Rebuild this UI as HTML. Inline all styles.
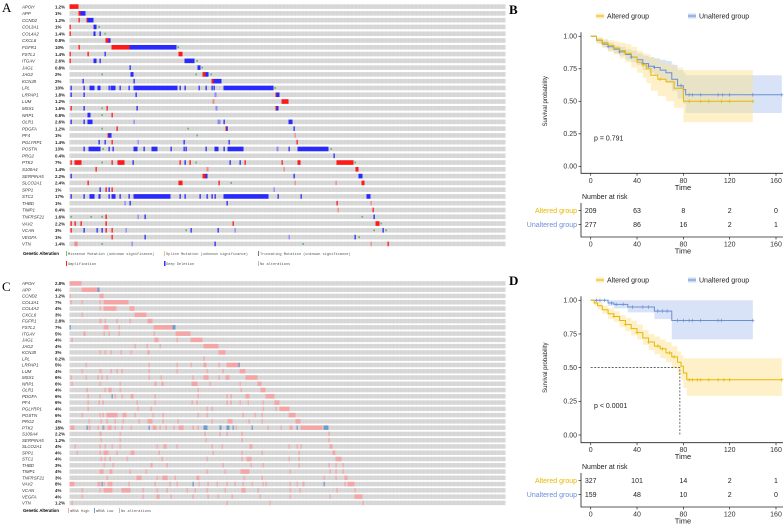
<!DOCTYPE html>
<html><head><meta charset="utf-8"><style>
html,body{margin:0;padding:0;background:#fff;}
svg{display:block;font-family:"Liberation Sans",sans-serif;}
</style></head><body>
<svg id="fig" width="784" height="525" viewBox="0 0 784 525" xmlns="http://www.w3.org/2000/svg">
<text x="2" y="12" font-family="Liberation Serif,serif" font-size="13">A</text>
<text x="2" y="291" font-family="Liberation Serif,serif" font-size="13">C</text>
<text x="509" y="14" font-family="Liberation Serif,serif" font-size="13" font-weight="bold">B</text>
<text x="509" y="285" font-family="Liberation Serif,serif" font-size="13" font-weight="bold">D</text>
<g id="oncoA"></g>
<g id="oncoC"></g>
<g id="kmB"></g>
<g id="kmD"></g>
<g font-size="3.6">
<text x="23" y="255" font-weight="bold" font-size="4.2">Genetic Alteration</text>
<rect x="66" y="251" width="0.8" height="5" fill="#4caf50"/>
<text x="68" y="255" font-family="Liberation Mono,monospace" fill="#555">Missense Mutation (unknown significance)</text>
<rect x="164" y="251" width="0.8" height="5" fill="#e0b870"/>
<text x="166" y="255" font-family="Liberation Mono,monospace" fill="#555">Splice Mutation (unknown significance)</text>
<rect x="258" y="251" width="0.8" height="5" fill="#555"/>
<text x="260" y="255" font-family="Liberation Mono,monospace" fill="#555">Truncating Mutation (unknown significance)</text>
<rect x="66" y="261" width="0.9" height="5" fill="#ff0000"/>
<text x="68" y="265" font-family="Liberation Mono,monospace" fill="#555">Amplification</text>
<rect x="164" y="261" width="1.5" height="5" fill="#3030ff"/>
<text x="166" y="265" font-family="Liberation Mono,monospace" fill="#555">Deep Deletion</text>
<rect x="258" y="261" width="0.8" height="5" fill="#aaa"/>
<text x="260" y="265" font-family="Liberation Mono,monospace" fill="#555">No alterations</text>
</g>
<g font-size="3.6">
<text x="23" y="512" font-weight="bold" font-size="4.2">Genetic Alteration</text>
<rect x="68" y="508" width="1" height="5" fill="#f4a6a6"/>
<text x="70" y="512" font-family="Liberation Mono,monospace" fill="#555">mRNA High</text>
<rect x="94" y="508" width="1" height="5" fill="#6d9ccf"/>
<text x="96" y="512" font-family="Liberation Mono,monospace" fill="#555">mRNA Low</text>
<rect x="119" y="508" width="0.8" height="5" fill="#aaa"/>
<text x="121" y="512" font-family="Liberation Mono,monospace" fill="#555">No alterations</text>
</g>
</svg>
<script>
const NS="http://www.w3.org/2000/svg";
const genes=["APOH","APP","CCND2","COL3A1","COL4A2","CXCL6","FGFR1","FSTL1","ITGAV","JAG1","JAG2","KCNJ8","LPL","LRPAP1","LUM","MSX1","NRP1","OLR1","PDGFA","PF4","PGLYRP1","POSTN","PRG2","PTK2","S100A4","SERPINA5","SLCO2A1","SPP1","STC1","THBD","TIMP1","TNFRSF21","VAV2","VCAN","VEGFA","VTN"];
const pctA=["1.2%","1%","1.2%","1%","1.4%","0.8%","10%","1.4%","2.6%","0.8%","2%","2%","10%","1.8%","1.2%","1.6%","0.8%","2.6%","1.2%","1%","1.4%","13%","0.4%","7%","1.4%","2.2%","2.4%","1%","17%","1%","0.4%","1.6%","2.2%","3%","1%","1.4%"];
const pctC=["2.8%","4%","1.2%","7%","4%","3%","2.8%","7%","5%","4%","4%","3%","0.2%","5%","4%","6%","6%","4%","6%","6%","4%","6%","4%","18%","2.2%","1.2%","4%","4%","4%","3%","4%","3%","8%","4%","4%","1.2%"];
const eventsA=["A0-9","A9-11 D11-16","A9 A17 D18-24","A0 D24-27 M29","A0 D24-26 D30 M35","A36-39 D39-41","A9 A42-60 D60-107 M108","A0 A18 D35 A109-113","A0 D24-27 D30 D115-125 M127","D60 D128-131 M132","M32 D61-64 M126 A133-136 D136-139 M141","D13 D64 A142-144 D144-152","D1 D14 D20-25 D28-31 D39 D41-46 D50 D59 D64-108 D110 D115 D129 D136 D142 D144 D154-204 M205","D1 D14 D66 d145-147 A206 D207-210","a143-145 A212-219","A1 D14 M32 A37 D67 d146-148 A206 D207-209","D18-21 M32 A42","D1 D14 D18-23 d64 d148-151 D154 D219-223","M32 A47 M118 A156 D157 D224","A38 D39-42 M127 a225","D29 D35 A42 d68 D114 D159 A227","D14 D19-31 M33 D39 D43 D64-68 D74 D82-88 D101 D114 D116 D136 D145-149 D154 D158-174 d207-209 D219 D228-259 M261","D264","A1 A5-12 M32 A42 A48-55 D63 A110 D115 A120 M126 D160 D170 A175 A212 A228-231 A267-284 M285","A26 a137-139 a214 A286-289","D1 A133-136 D136-138 D224 D289-293","A18 A109-113 A149 M161 a225 a266 A292-295","D30 A36 D39 A42 d204","D1 D14 D20-25 D29-31 D39 D42-46 D50 D59 D64-101 D110 D115 D130 D137 D142 D145 D154-199 D208 D231 D297-301","d55 D60 D157 A267 a301","a268 A303","M1 M21 M32 A36 d68 D75 M292 D304","A1 A5 A11 A36 A163 A306-310 M311","A1 D14 D27 D32 A36 A42 d56 M116 D121 D148 d165 M304 D313 M316","A42 D75 d219 D285 M289","a5-8 M32 d62 D145 M233 a301 A318"];
const eventsC=["H0-12","H12-28 L28-30","H0 H30-34","H1 H12 H30 H34-59","H30 H34-47 H60-65","H12 H65-77","H30-32 H35 H47 H60 H78-83","L0 H34-39 H49 H84-103 L103-106","H14-16 H34 H39 H49 H84 H106-121","H2 H85-89 H107 H121-133","H65 H77 H90 H134-149","H30 H35 H41 H51 H61 H78-80 H149-156","H134","H16 H79 H107 H121 H134-137 H149 H157-169 L169","H12 H30-32 H41 H47 H52 H79 H107 H137 H153 H170-176","H1 H16 H28 H32 H37 H79 H91 H123 H134-139 H149 H156-160 H176-188","H2 H30 H50 H85-87 H92-94 H122-128 H140 H170 H188-192","H17 H35 H39-42 H50 H128 H171 H191-196","H18 H30 L42 H45 H52 H61-64 H85 H128 H157 H161 H176-180 H196-205","H18 H29 H33 H67 H85 H122 H127 H157 H161 H170 H178 H193 H205-210","H18 H68 H81 H137 H142 H193 H206 H210-220","H12 H30 H33 H37-48 H53-57 H65 H83 H93 H128 H137 H173 H185 H192 H219-226","H19 H31 H37 H45 H53 H69 H78-83 H93 H108 H142 H158-163 H179 H192 H226-231","H1-5 L17 H19-21 H28 L33 H34 H38-42 H45 H52 H61 L79 H83-87 H90 H96 H104 H109-114 H123 H128 L134-138 L150-152 L157-160 L163 H166 L182 H198 H211 H220-223 L227 H231-253 L254-259","H30-32 H50 H135 H150 H157 H172 H259","H31 H50 H136 H172 H259","H5 H30 H35 H42 H50 H87 H94-97 H107 H142 H152 H180-183 H219 H227 H231 H260-263","H7 H30 H34-39 H47 H61-65 H89 H143 H172 H192 H229 H263-266","H31 H35 H40 H57 H92 H137 H172 H177-182 H219 H229 H266-272","H34 H43 H81-83 H97 H153 H181 H193 H229 H259 H266 H273","H30-34 H40-43 H60 H76 H137 H155 H171-180 H220 H260 H266 H273","H37 H67-72 H87 H93-98 H105 H127-130 H174 H192 H254 H266 H275-278","H0-5 H28-31 L32 H34 H38-43 H59 H85 H100 H107 L123 H129 H138 H147 H157 H165 H173 H182 H193 H196 H220 H227 H233-235 L254 H275 H278-285","H12 H30 H34-43 H52-61 H73 H87 H97 H117 H125 H137 H155 H172-176 H188 H220 H230 H267 H285","H12 H73 H87-90 H101 H123 H138 H148 H162 H190 H220 H260 H285-293","H2 H157 H200 H293"];

// KM data
const bTimesAlt=[0,5,10,15,20,25,30,35,40,45,48,52,58,65,72,80,140];
const bSurvAlt=[1,.97,.95,.93,.91,.89,.87,.84,.80,.78,.75,.70,.67,.65,.60,.50,.50];
const bLowAlt=[1,.94,.91,.88,.86,.83,.80,.76,.72,.68,.64,.58,.54,.50,.45,.34,.34];
const bUpAlt=[1,.99,.98,.97,.96,.95,.94,.92,.89,.87,.86,.83,.80,.79,.76,.74,.74];
const bTimesUn=[0,5,10,15,20,25,30,35,40,45,50,55,60,65,70,75,80,82,165];
const bSurvUn=[1,.97,.94,.92,.90,.88,.86,.84,.82,.79,.77,.76,.74,.72,.67,.62,.59,.55,.55];
const bLowUn=[1,.95,.92,.89,.87,.85,.82,.80,.78,.74,.72,.70,.67,.64,.58,.52,.48,.41,.41];
const bUpUn=[1,.99,.97,.95,.93,.92,.90,.89,.87,.85,.84,.83,.82,.81,.78,.74,.72,.70,.70];
const bCensAlt=[10,20,30,45,60,85,95,102,113,120,140];
const bCensUn=[15,25,35,45,50,55,78,85,88,95,110,114,120,140,165];
const bRiskAlt=["209","63","8","2","0"];
const bRiskUn=["277","86","16","2","1"];
const dTimesAlt=[0,3,6,10,15,20,25,30,35,40,45,50,55,60,65,70,75,78,80,83,165];
const dSurvAlt=[1,.98,.96,.93,.90,.88,.85,.82,.79,.76,.72,.69,.66,.64,.61,.58,.54,.51,.46,.41,.41];
const dLowAlt=[1,.96,.93,.90,.86,.84,.80,.77,.74,.71,.67,.63,.60,.57,.54,.50,.45,.41,.35,.29,.29];
const dUpAlt=[1,1,.99,.96,.94,.92,.89,.87,.85,.82,.78,.75,.73,.71,.69,.66,.62,.59,.57,.57,.57];
const dTimesUn=[0,10,15,20,32,55,70,140];
const dSurvUn=[1,1,.98,.97,.95,.92,.85,.85];
const dLowUn=[1,1,.96,.94,.91,.86,.71,.71];
const dUpUn=[1,1,1,1,1,1,1,1];
const dCensAlt=[20,30,40,50,58,62,68,72,85,88,92,95,102,110,115,120,165];
const dCensUn=[5,8,12,18,22,28,36,45,50,58,62,66,75,80,85,88,95,110,113,140];
const dRiskAlt=["327","101","14","2","1"];
const dRiskUn=["159","48","10","2","0"];
const dMedian=77;
const xTicks=[0,40,80,120,160];
const yTicks=[0,0.25,0.5,0.75,1];

function mk(tag,attrs,parent){const e=document.createElementNS(NS,tag);for(const k in attrs)e.setAttribute(k,attrs[k]);parent.appendChild(e);return e;}
const colA={A:"#ff1a1a",D:"#2a2aff",M:"#4caf50",a:"#f08a8a",d:"#8a8aff"};
const colC={H:"#f4a6a6",L:"#6d9ccf"};

function onco(gid,top,pitch,h,pcts,events,cols){
  const g=document.getElementById(gid);
  const x0=69.5,w=436;
  genes.forEach((gn,i)=>{
    const y=top+i*pitch;
    const t=mk("text",{x:22,y:y+h-0.6,"font-size":4.4,"font-style":"italic",fill:"#333"},g);t.textContent=gn;
    
    
    const p=mk("text",{x:55,y:y+h-0.6,"font-size":4.4,"font-weight":"bold",fill:"#222"},g);p.textContent=pcts[i];
    
    
    const r=mk("rect",{x:x0,y:y,width:w,height:h,fill:"url(#stripe)"},g);
    
    
    events[i].split(" ").forEach(tok=>{
      const ty=tok[0];const parts=tok.slice(1).split("-").map(Number);
      const s=parts[0],e=parts.length>1?parts[1]:parts[0];
      const ww=Math.max(e-s,1.3);
      let yy=y,hh=h;
      if(ty==="M"){yy=y+h*0.3;hh=h*0.4;}
      const m=mk("rect",{x:x0+s,y:yy,width:ww,height:hh,fill:cols[ty]},g);
      
      
    });
  });
}
const defs=mk("defs",{},document.getElementById("fig"));
const pat=mk("pattern",{id:"stripe",width:1.36,height:10,patternUnits:"userSpaceOnUse"},defs);
mk("rect",{x:0,y:0,width:1.36,height:10,fill:"#d3d3d3"},pat);
mk("rect",{x:1.0,y:0,width:0.36,height:10,fill:"#e2e2e2"},pat);
onco("oncoA",4.3,6.78,4.6,pctA,eventsA,colA);
onco("oncoC",281.2,6.27,4.5,pctC,eventsC,colC);

function km(gid,cfg){
  const g=document.getElementById(gid);
  const X=t=>590.7+t*(185.3/160);
  const Y=s=>cfg.y0-s*(cfg.y0-cfg.y1);
  function stepPts(ts,ss){let p=[];for(let i=0;i<ts.length;i++){if(i>0)p.push([X(ts[i]),Y(ss[i-1])]);p.push([X(ts[i]),Y(ss[i])]);}return p;}
  function band(ts,lo,up,fill){const u=stepPts(ts,up),l=stepPts(ts,lo).reverse();const pts=u.concat(l).map(p=>p.join(",")).join(" ");
    const b=mk("polygon",{points:pts,fill:fill,"fill-opacity":0.45},g);
    
    }
  function line(ts,ss,col,name){const p=stepPts(ts,ss);const l=mk("polyline",{points:p.map(q=>q.join(",")).join(" "),fill:"none",stroke:col,"stroke-width":1},g);
    
    }
  function cens(ts,ss,cs,col){cs.forEach(c=>{let k=0;for(let i=0;i<ts.length;i++)if(ts[i]<=c)k=i;const x=X(c),y=Y(ss[k]);
    const m=mk("path",{d:`M${x},${y-1.8}V${y+1.8}M${x-1.5},${y}H${x+1.5}`,stroke:col,"stroke-width":0.7},g);
    
    });}
  band(cfg.tu,cfg.lu,cfg.uu,"#a9c0ee");
  band(cfg.ta,cfg.la,cfg.ua,"#fde08a");
  line(cfg.tu,cfg.su,"#6b8fd6","unaltered-curve");
  line(cfg.ta,cfg.sa,"#e7b800","altered-curve");
  cens(cfg.tu,cfg.su,cfg.cu,"#6b8fd6");
  cens(cfg.ta,cfg.sa,cfg.ca,"#e7b800");
  if(cfg.median!=null){const md=mk("path",{d:`M${X(0)},${Y(0.5)}H${X(cfg.median)}V${Y(0)}`,stroke:"#333","stroke-width":0.7,"stroke-dasharray":"2,1.5",fill:"none"},g);
    
    }
  const ax=mk("path",{d:`M581,${cfg.y1-4}V${cfg.axB}H${X(166)}`,stroke:"#222","stroke-width":0.8,fill:"none"},g);
  
  
  yTicks.forEach(v=>{mk("path",{d:`M578.5,${Y(v)}H581`,stroke:"#222","stroke-width":0.7},g);
    const t=mk("text",{x:577,y:Y(v)+2.4,"font-size":7,"text-anchor":"end",fill:"#333"},g);t.textContent=v.toFixed(2);
    
    });
  xTicks.forEach(v=>{mk("path",{d:`M${X(v)},${cfg.axB}V${cfg.axB+2.5}`,stroke:"#222","stroke-width":0.7},g);
    const t=mk("text",{x:X(v),y:cfg.axB+9.5,"font-size":7,"text-anchor":"middle",fill:"#333"},g);t.textContent=v;
    
    });
  const xt=mk("text",{x:683,y:cfg.axB+16.5,"font-size":7.5,"text-anchor":"middle",fill:"#222"},g);xt.textContent="Time";
  
  
  const yl=mk("text",{x:0,y:0,"font-size":6,"text-anchor":"middle",fill:"#222",transform:`translate(547,${(cfg.y0+cfg.y1)/2}) rotate(-90)`},g);yl.textContent="Survival probability";
  
  
  const pv=mk("text",{x:594,y:Y(0.2),"font-size":7,fill:"#222"},g);pv.textContent=cfg.p;
  
  
  const ly=cfg.legY;
  mk("rect",{x:596,y:ly-3.5,width:8,height:5,fill:"#fde08a","fill-opacity":0.6},g);
  mk("path",{d:`M596,${ly-1}H604`,stroke:"#e7b800","stroke-width":1},g);
  const la=mk("text",{x:607,y:ly+1.5,"font-size":7,fill:"#222"},g);la.textContent="Altered group";
  
  
  mk("rect",{x:688,y:ly-3.5,width:8,height:5,fill:"#a9c0ee","fill-opacity":0.6},g);
  mk("path",{d:`M688,${ly-1}H696`,stroke:"#6b8fd6","stroke-width":1},g);
  const lu=mk("text",{x:699,y:ly+1.5,"font-size":7,fill:"#222"},g);lu.textContent="Unaltered group";
  
  
  const ry=cfg.riskY;
  const rt=mk("text",{x:582,y:ry,"font-size":7,fill:"#222"},g);rt.textContent="Number at risk";
  
  
  [[cfg.ra,"Altered group","#e7b800",ry+14],[cfg.ru,"Unaltered group","#6b8fd6",ry+28]].forEach(([arr,lab,col,yy])=>{
    const t=mk("text",{x:577,y:yy,"font-size":7,"text-anchor":"end",fill:col},g);t.textContent=lab;
    
    
    mk("path",{d:`M578.5,${yy-2.5}H581`,stroke:"#222","stroke-width":0.7},g);
    arr.forEach((v,i)=>{const c=mk("text",{x:X(xTicks[i]),y:yy,"font-size":7,"text-anchor":"middle",fill:"#222"},g);c.textContent=v;
      
      });
  });
  const rb=ry+38;
  mk("path",{d:`M581,${ry+4}V${rb}H${X(166)}`,stroke:"#222","stroke-width":0.8,fill:"none"},g);
  xTicks.forEach(v=>{mk("path",{d:`M${X(v)},${rb}V${rb+2.5}`,stroke:"#222","stroke-width":0.7},g);
    const t=mk("text",{x:X(v),y:rb+9.5,"font-size":7,"text-anchor":"middle",fill:"#333"},g);t.textContent=v;
    
    });
  const t2=mk("text",{x:683,y:rb+16.5,"font-size":7.5,"text-anchor":"middle",fill:"#222"},g);t2.textContent="Time";
  
  
}
km("kmB",{y0:166.3,y1:36.3,axB:173.3,legY:17,riskY:199,p:"p = 0.791",median:null,
  ta:bTimesAlt,sa:bSurvAlt,la:bLowAlt,ua:bUpAlt,tu:bTimesUn,su:bSurvUn,lu:bLowUn,uu:bUpUn,ca:bCensAlt,cu:bCensUn,ra:bRiskAlt,ru:bRiskUn});
km("kmD",{y0:435,y1:300.3,axB:442.7,legY:281,riskY:469,p:"p < 0.0001",median:dMedian,
  ta:dTimesAlt,sa:dSurvAlt,la:dLowAlt,ua:dUpAlt,tu:dTimesUn,su:dSurvUn,lu:dLowUn,uu:dUpUn,ca:dCensAlt,cu:dCensUn,ra:dRiskAlt,ru:dRiskUn});
</script>
</body></html>
